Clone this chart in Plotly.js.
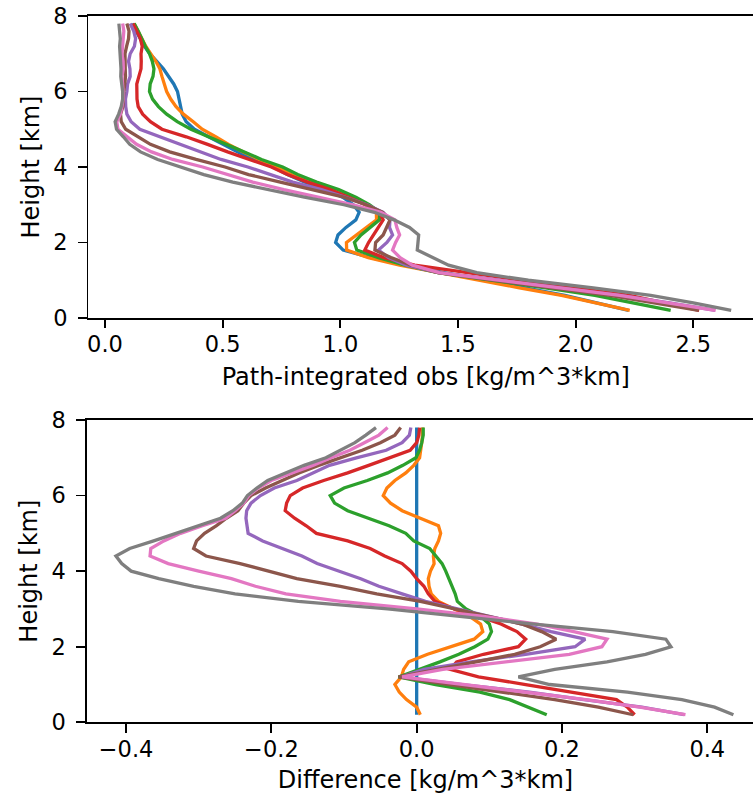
<!DOCTYPE html>
<html>
<head>
<meta charset="utf-8">
<script src="https://cdn.plot.ly/plotly-3.0.1.min.js"></script>
<style>
  html, body { margin: 0; padding: 0; background: #fff; overflow: hidden; }
  #plot { width: 765px; height: 794px; }
</style>
</head>
<body>
<div id="plot"></div>
<script>
// Height levels [km], bottom to top
const heights = [0.2, 0.4, 0.6, 0.8, 1.0, 1.2, 1.4, 1.6, 1.8, 2.0,
                 2.2, 2.4, 2.6, 2.8, 3.0, 3.2, 3.4, 3.6, 3.8, 4.0,
                 4.2, 4.4, 4.6, 4.8, 5.0, 5.2, 5.4, 5.6, 5.8, 6.0,
                 6.2, 6.4, 6.6, 6.8, 7.0, 7.2, 7.4, 7.6, 7.8];

// Path-integrated obs of the reference run [kg/m^3*km]
const referenceObs = [2.225, 2.090, 1.954, 1.785, 1.616, 1.440, 1.270, 1.130, 1.012, 0.980,
                      0.990, 1.024, 1.066, 1.080, 1.055, 1.010, 0.940, 0.850, 0.775, 0.715,
                      0.630, 0.565, 0.500, 0.440, 0.380, 0.345, 0.328, 0.322, 0.315, 0.308,
                      0.292, 0.272, 0.248, 0.220, 0.190, 0.167, 0.150, 0.132, 0.115];

// Differences of the other runs from the reference run [kg/m^3*km]
const diffRun2 = [0.005, 0.000, -0.014, -0.024, -0.030, -0.021, -0.018, -0.011, 0.015, 0.046,
                  0.079, 0.091, 0.088, 0.073, 0.052, 0.030, 0.020, 0.017, 0.016, 0.019,
                  0.024, 0.023, 0.025, 0.030, 0.033, 0.030, 0.005, -0.020, -0.036, -0.046,
                  -0.041, -0.030, -0.015, -0.004, 0.004, 0.006, 0.007, 0.008, 0.008];
const diffRun3 = [0.179, 0.153, 0.128, 0.087, 0.026, -0.025, 0.005, 0.032, 0.058, 0.080,
                  0.098, 0.103, 0.100, 0.088, 0.068, 0.056, 0.053, 0.049, 0.044, 0.040,
                  0.035, 0.027, 0.018, -0.004, -0.015, -0.038, -0.066, -0.095, -0.113, -0.119,
                  -0.100, -0.068, -0.040, -0.019, -0.001, 0.004, 0.007, 0.009, 0.009];
const diffRun4 = [0.300, 0.290, 0.275, 0.209, 0.150, 0.085, 0.046, 0.055, 0.092, 0.140,
                  0.150, 0.138, 0.116, 0.086, 0.052, 0.025, 0.016, 0.010, 0.000, -0.008,
                  -0.020, -0.044, -0.064, -0.095, -0.138, -0.152, -0.168, -0.181, -0.179, -0.174,
                  -0.157, -0.128, -0.095, -0.066, -0.037, -0.009, 0.000, 0.003, 0.004];
const diffRun5 = [0.368, 0.310, 0.230, 0.155, 0.060, -0.022, 0.010, 0.075, 0.150, 0.218,
                  0.232, 0.185, 0.145, 0.102, 0.058, 0.012, -0.020, -0.052, -0.077, -0.108,
                  -0.137, -0.158, -0.185, -0.212, -0.232, -0.234, -0.235, -0.234, -0.228, -0.215,
                  -0.196, -0.165, -0.142, -0.120, -0.083, -0.042, -0.020, -0.010, -0.008];
const diffRun6 = [0.298, 0.250, 0.190, 0.115, 0.045, -0.025, 0.030, 0.085, 0.135, 0.170,
                  0.192, 0.172, 0.145, 0.100, 0.055, 0.005, -0.055, -0.105, -0.165, -0.205,
                  -0.243, -0.290, -0.307, -0.303, -0.292, -0.276, -0.262, -0.246, -0.238, -0.228,
                  -0.208, -0.185, -0.162, -0.135, -0.105, -0.075, -0.050, -0.030, -0.022];
const diffRun7 = [0.370, 0.307, 0.233, 0.148, 0.060, -0.020, 0.036, 0.124, 0.210, 0.255,
                  0.262, 0.216, 0.166, 0.092, 0.000, -0.105, -0.180, -0.222, -0.255, -0.300,
                  -0.342, -0.367, -0.366, -0.348, -0.325, -0.295, -0.263, -0.250, -0.238, -0.231,
                  -0.218, -0.200, -0.170, -0.143, -0.118, -0.092, -0.072, -0.052, -0.040];
const diffRun8 = [0.436, 0.410, 0.365, 0.290, 0.183, 0.140, 0.190, 0.262, 0.315, 0.350,
                  0.343, 0.270, 0.162, 0.065, -0.040, -0.163, -0.250, -0.307, -0.355, -0.393,
                  -0.406, -0.414, -0.395, -0.362, -0.331, -0.302, -0.270, -0.253, -0.240, -0.233,
                  -0.220, -0.205, -0.180, -0.155, -0.125, -0.105, -0.085, -0.070, -0.056];

const runColors = ['#1f77b4', '#ff7f0e', '#2ca02c', '#d62728',
                   '#9467bd', '#8c564b', '#e377c2', '#7f7f7f'];

const zeroDiff = referenceObs.map(v => v - v);
const runDiffs = [zeroDiff, diffRun2, diffRun3, diffRun4, diffRun5, diffRun6, diffRun7, diffRun8];

const traces = [];
// Upper panel: path-integrated obs of every run
runDiffs.forEach((d, i) => {
  traces.push({
    x: referenceObs.map((r, k) => r + d[k]), y: heights,
    xaxis: 'x', yaxis: 'y', type: 'scatter', mode: 'lines',
    line: { color: runColors[i], width: 3.3 }, hoverinfo: 'skip'
  });
});
// Lower panel: difference from the reference run
runDiffs.forEach((d, i) => {
  traces.push({
    x: d, y: heights,
    xaxis: 'x2', yaxis: 'y2', type: 'scatter', mode: 'lines',
    line: { color: runColors[i], width: 3.3 }, hoverinfo: 'skip'
  });
});

const W = 765, H = 794;
const axisStyle = {
  showline: true, mirror: true, linecolor: '#000', linewidth: 1.8,
  ticks: 'outside', ticklen: 8.5, tickwidth: 1.8, tickcolor: '#000',
  showgrid: false, zeroline: false,
  tickfont: { family: 'DejaVu Sans', size: 22.5, color: '#000' }
};
const titleFont = { family: 'DejaVu Sans', size: 24, color: '#000' };

const layout = {
  width: W, height: H,
  margin: { l: 0, r: 0, t: 0, b: 0 },
  paper_bgcolor: '#fff', plot_bgcolor: '#fff',
  showlegend: false,
  font: { family: 'DejaVu Sans', size: 22.5, color: '#000' },
  xaxis: Object.assign({}, axisStyle, {
    domain: [88.3 / W, 763.3 / W], range: [-0.071, 2.7975], anchor: 'y',
    tickvals: [0, 0.5, 1.0, 1.5, 2.0, 2.5], tickformat: '.1f', ticklabelstandoff: -3,
    title: { text: 'Path-integrated obs [kg/m^3*km]', font: titleFont, standoff: 12 }
  }),
  yaxis: Object.assign({}, axisStyle, {
    domain: [1 - 318 / H, 1 - 16 / H], range: [0, 8], anchor: 'x',
    tickvals: [0, 2, 4, 6, 8], ticklabelstandoff: 6,
    title: { text: 'Height [km]', font: titleFont, standoff: 7 }
  }),
  xaxis2: Object.assign({}, axisStyle, {
    domain: [86.7 / W, 764.3 / W], range: [-0.4542, 0.4785], anchor: 'y2',
    tickvals: [-0.4, -0.2, 0.0, 0.2, 0.4], tickformat: '.1f', ticklabelstandoff: -3,
    title: { text: 'Difference [kg/m^3*km]', font: titleFont, standoff: 12 }
  }),
  yaxis2: Object.assign({}, axisStyle, {
    domain: [1 - 722.3 / H, 1 - 420 / H], range: [0, 8], anchor: 'x2',
    tickvals: [0, 2, 4, 6, 8], ticklabelstandoff: 6,
    title: { text: 'Height [km]', font: titleFont, standoff: 7 }
  })
};

Plotly.newPlot('plot', traces, layout, { displayModeBar: false, staticPlot: true });
</script>
</body>
</html>
